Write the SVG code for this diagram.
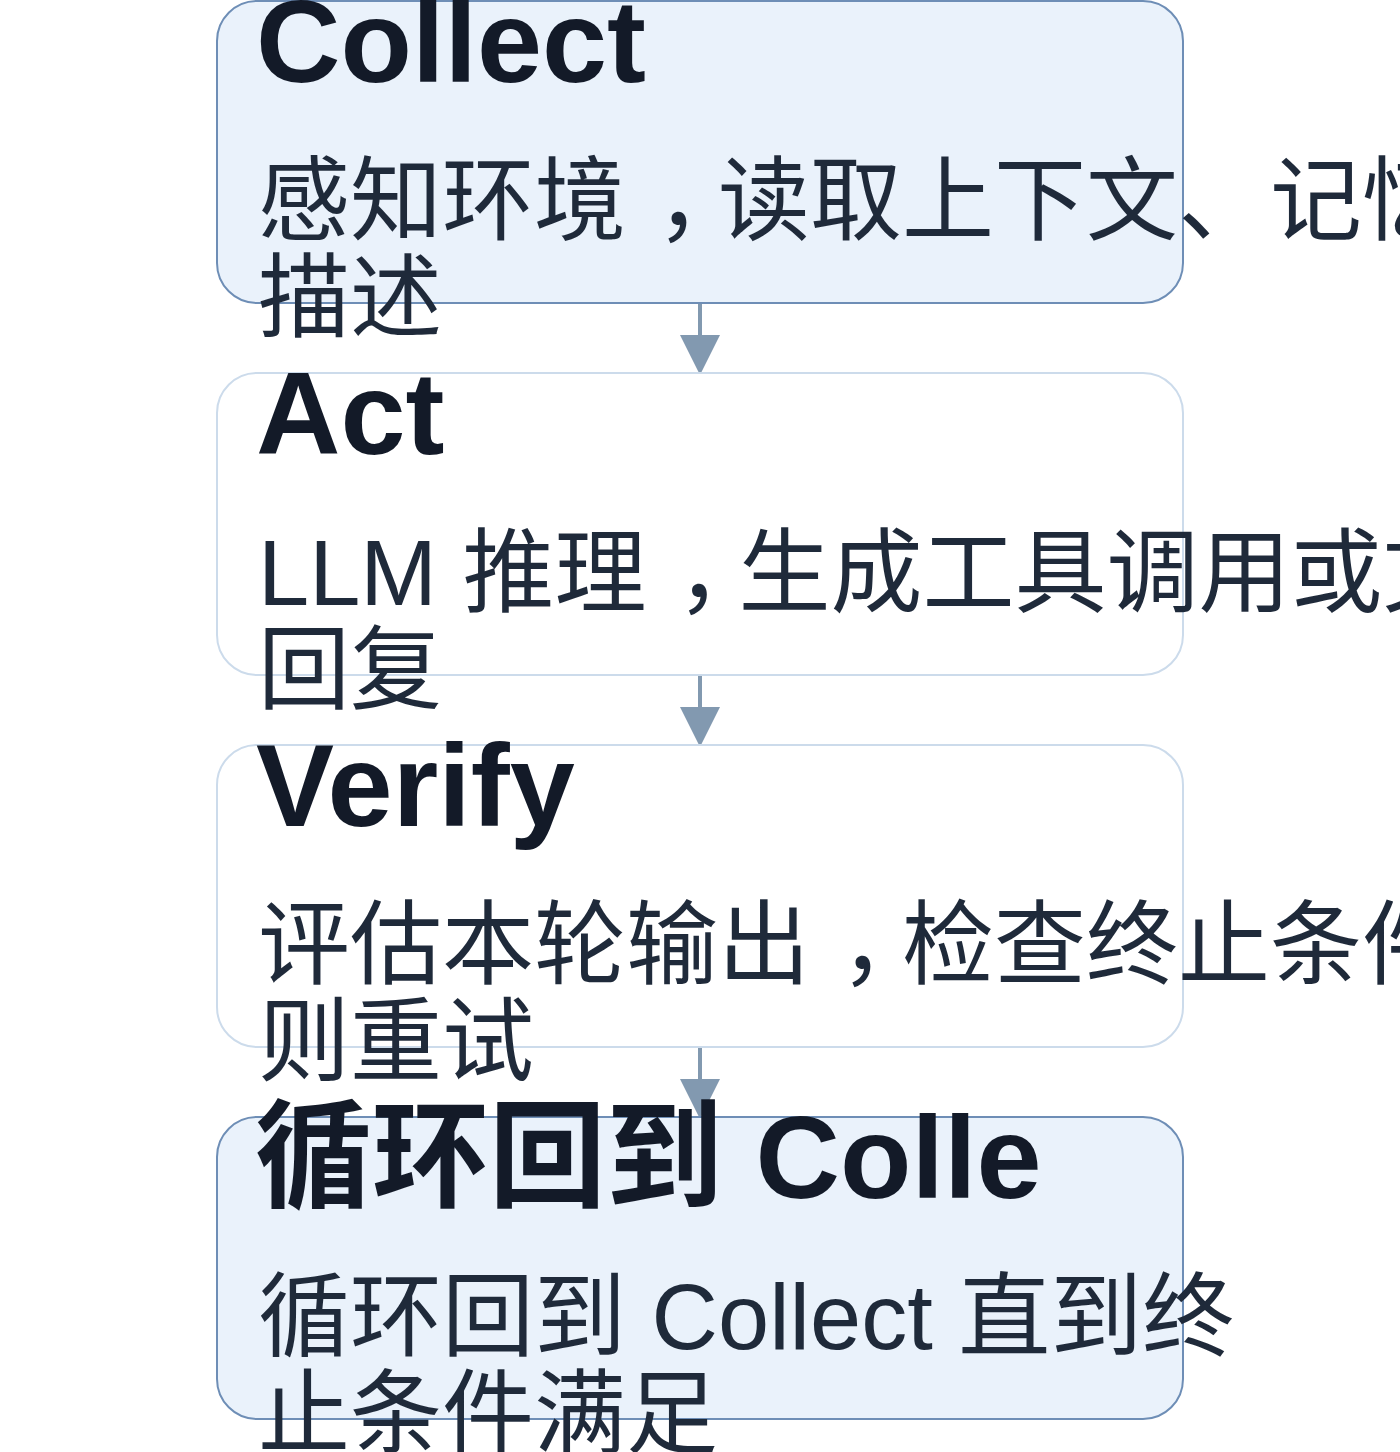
<svg xmlns="http://www.w3.org/2000/svg" width="1400" height="1452" viewBox="0 0 1400 1452">
<defs>
<style>
.box-a{fill:#EAF2FB;stroke:#6E8EB6;stroke-width:2}
.box-b{fill:#FFFFFF;stroke:#CCDBEB;stroke-width:2}
.title{font-family:"Liberation Sans","Noto Sans CJK SC",sans-serif;font-weight:bold;font-size:117px;fill:#131A28}
.body{font-family:"Liberation Sans","Noto Sans CJK SC",sans-serif;font-size:92px;fill:#1F2A3A}
.conn{stroke:#8299B0;stroke-width:4;fill:none}
.head{fill:#8299B0}
</style>
</defs>
<rect width="1400" height="1452" fill="#FFFFFF"/>
<g id="connectors">
<line class="conn" x1="700" y1="304" x2="700" y2="336"/>
<path class="head" d="M680,335 L720,335 L700,375 Z"/>
<line class="conn" x1="700" y1="676" x2="700" y2="708"/>
<path class="head" d="M680,707 L720,707 L700,747 Z"/>
<line class="conn" x1="700" y1="1048" x2="700" y2="1080"/>
<path class="head" d="M680,1079 L720,1079 L700,1119 Z"/>
</g>
<g id="node-collect">
<rect class="box-a" x="217" y="1" width="966" height="302" rx="40"/>
<text class="title" x="256" y="82">Collect</text>
<text class="body" x="258" y="233" dx="0 0 0 0 30 -30">感知环境，读取上下文、记忆</text>
<text class="body" x="258" y="330">描述</text>
</g>
<g id="node-act">
<rect class="box-b" x="217" y="373" width="966" height="302" rx="40"/>
<text class="title" x="256" y="454">Act</text>
<text class="body" x="258" y="605" dx="0 0 0 0 0 0 30 -30">LLM 推理，生成工具调用或文</text>
<text class="body" x="258" y="702">回复</text>
</g>
<g id="node-verify">
<rect class="box-b" x="217" y="745" width="966" height="302" rx="40"/>
<text class="title" x="256" y="826">Verify</text>
<text class="body" x="258" y="977" dx="0 0 0 0 0 0 30 -30">评估本轮输出，检查终止条件</text>
<text class="body" x="258" y="1074">则重试</text>
</g>
<g id="node-loop">
<rect class="box-a" x="217" y="1117" width="966" height="302" rx="40"/>
<text class="title" x="255" y="1198">循环回到 Colle</text>
<text class="body" x="258" y="1349">循环回到 Collect 直到终</text>
<text class="body" x="258" y="1446">止条件满足</text>
</g>
</svg>
